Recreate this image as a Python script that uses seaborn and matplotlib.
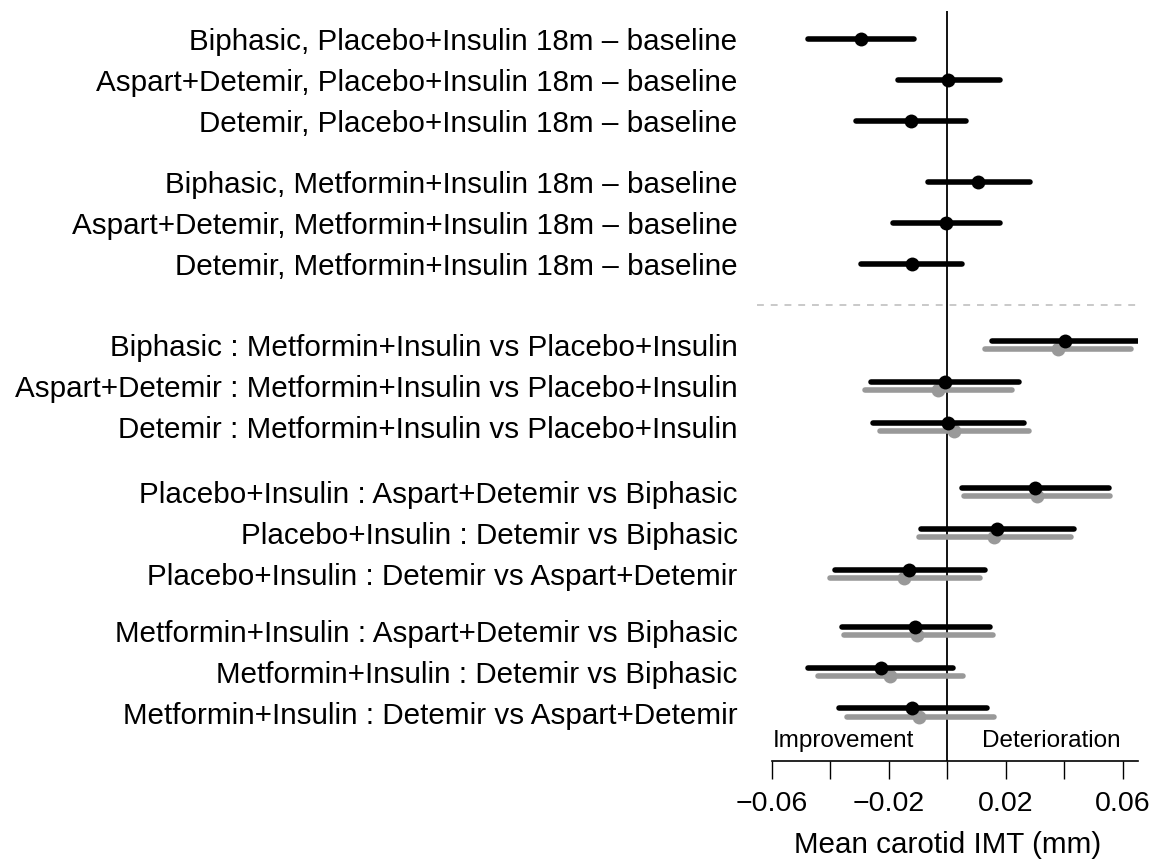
import matplotlib
matplotlib.use("Agg")
import matplotlib.pyplot as plt
import seaborn as sns
import pandas as pd
import numpy as np

sns.set_theme(style="white")
plt.rcParams['font.family'] = ['Liberation Sans', 'DejaVu Sans']
plt.rcParams['text.color'] = 'black'
plt.rcParams['axes.labelcolor'] = 'black'
plt.rcParams['xtick.color'] = 'black'
plt.rcParams['ytick.color'] = 'black'

# ---------------- data ----------------
labels_base = [
    "Biphasic, Placebo+Insulin 18m \u2013 baseline",
    "Aspart+Detemir, Placebo+Insulin 18m \u2013 baseline",
    "Detemir, Placebo+Insulin 18m \u2013 baseline",
    "Biphasic, Metformin+Insulin 18m \u2013 baseline",
    "Aspart+Detemir, Metformin+Insulin 18m \u2013 baseline",
    "Detemir, Metformin+Insulin 18m \u2013 baseline",
]
est_base = [-0.0294, 0.0004, -0.0124, 0.0107, -0.0003, -0.0121]
lo_base = [-0.0475, -0.0167, -0.0313, -0.0066, -0.0186, -0.0296]
hi_base = [-0.0113, 0.0180, 0.0066, 0.0283, 0.0180, 0.0052]

labels_cmp = [
    "Biphasic : Metformin+Insulin vs Placebo+Insulin",
    "Aspart+Detemir : Metformin+Insulin vs Placebo+Insulin",
    "Detemir : Metformin+Insulin vs Placebo+Insulin",
    "Placebo+Insulin : Aspart+Detemir vs Biphasic",
    "Placebo+Insulin : Detemir vs Biphasic",
    "Placebo+Insulin : Detemir vs Aspart+Detemir",
    "Metformin+Insulin : Aspart+Detemir vs Biphasic",
    "Metformin+Insulin : Detemir vs Biphasic",
    "Metformin+Insulin : Detemir vs Aspart+Detemir",
]
est_black = [0.0403, -0.0007, 0.0002, 0.0302, 0.0172, -0.0129, -0.0109, -0.0227, -0.0119]
lo_black = [0.0154, -0.0259, -0.0253, 0.0051, -0.0088, -0.0384, -0.0361, -0.0475, -0.0370]
hi_black = [0.0700, 0.0245, 0.0262, 0.0553, 0.0433, 0.0131, 0.0146, 0.0020, 0.0138]
est_grey = [0.0378, -0.0030, 0.0024, 0.0307, 0.0161, -0.0147, -0.0102, -0.0195, -0.0095]
lo_grey = [0.0129, -0.0279, -0.0228, 0.0059, -0.0097, -0.0401, -0.0351, -0.0441, -0.0342]
hi_grey = [0.0630, 0.0223, 0.0279, 0.0558, 0.0423, 0.0112, 0.0157, 0.0055, 0.0160]

xticks = [-0.06, -0.04, -0.02, 0.0, 0.02, 0.04, 0.06]
xtick_labels = ["\u22120.06", "", "\u22120.02", "", "0.02", "", "0.06"]

# ---------------- layout (row positions) ----------------
group_sizes = [3, 3, 3, 3, 3]
group_gaps = [0.0, 1.5, 2.0, 1.6, 1.4]
pos = []
cur = 0.0
for g, (n, gap) in enumerate(zip(group_sizes, group_gaps)):
    cur += gap if g > 0 else 0.0
    for i in range(n):
        pos.append(cur)
        cur += 1.0
    cur -= 1.0
pos_base = pos[:6]
pos_cmp = pos[6:]
dash_y = (pos_base[-1] + pos_cmp[0]) / 2
off = 0.1

df_base = pd.DataFrame({"label": labels_base, "est": est_base, "lo": lo_base,
                        "hi": hi_base, "y": pos_base})
df_b = pd.DataFrame({"label": labels_cmp, "est": est_black, "lo": lo_black,
                     "hi": hi_black, "y": np.array(pos_cmp) - off})
df_g = pd.DataFrame({"label": labels_cmp, "est": est_grey, "lo": lo_grey,
                     "hi": hi_grey, "y": np.array(pos_cmp) + off})

W, H = 1166, 864
fig = plt.figure(figsize=(W / 100, H / 100), dpi=100)
ax_l, ax_r, ax_t, ax_b = 757, 1138, 11, 760.7
ax = fig.add_axes([ax_l / W, 1 - ax_b / H, (ax_r - ax_l) / W, (ax_b - ax_t) / H])

xmin, xmax = -0.065, 0.0653
ax.set_xlim(xmin, xmax)
row_px = 40.8
r0 = 39.3
ax.set_ylim((ax_b - r0) / row_px, (ax_t - r0) / row_px)

lw = 4.0
grey = "#999999"
# separator and zero line
ax.axhline(dash_y, color="#BBBBBB", lw=1.1, linestyle=(0, (4.5, 4.5)), zorder=1)
ax.axvline(0, color="black", lw=1.3, zorder=2)

# grey comparisons
ax.hlines(df_g["y"], df_g["lo"], df_g["hi"], color=grey, lw=lw, capstyle="round", zorder=3)
sns.scatterplot(data=df_g, x="est", y="y", color=grey, s=100, linewidth=0, ax=ax, zorder=4)
# black
for d in (df_base, df_b):
    ax.hlines(d["y"], d["lo"], d["hi"], color="black", lw=lw, capstyle="round", zorder=5)
    sns.scatterplot(data=d, x="est", y="y", color="black", s=100, linewidth=0, ax=ax, zorder=6)

# y labels
ax.set_yticks(pos_base + pos_cmp)
ax.set_yticklabels(labels_base + labels_cmp, fontsize=21.3)
ax.tick_params(axis="y", length=0, pad=14)

# x axis
for s in ["top", "right", "left"]:
    ax.spines[s].set_visible(False)
ax.spines["bottom"].set_bounds(-0.06, xmax)
ax.spines["bottom"].set_linewidth(1.2)
ax.spines["bottom"].set_color("black")
ax.set_xticks(xticks)
ax.set_xticklabels(xtick_labels, fontsize=20.5)
ax.tick_params(axis="x", bottom=True, length=13, width=1.0, pad=9, colors="black")
ax.set_xlabel("Mean carotid IMT (mm)", fontsize=21.3, labelpad=10)
ax.set_ylabel("")

yt = (747 - r0) / row_px
ax.text(-0.0353, yt, "Improvement", ha="center", va="baseline", fontsize=17.5)
ax.text(0.0357, yt, "Deterioration", ha="center", va="baseline", fontsize=17.5)

fig.savefig("out.png", dpi=100)
